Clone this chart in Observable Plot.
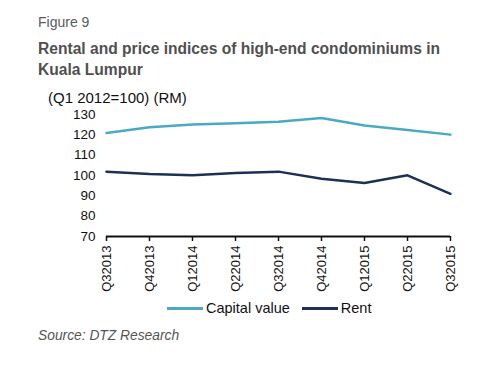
<!DOCTYPE html>
<html><head><meta charset="utf-8">
<script src="https://cdn.jsdelivr.net/npm/d3@7"></script>
<script src="https://cdn.jsdelivr.net/npm/@observablehq/plot@0.6"></script>
<style>
body{margin:0;width:500px;height:367px;position:relative;background:#fff;font-family:Arial,"Liberation Sans",sans-serif;overflow:hidden}
.abs{position:absolute;white-space:nowrap}
#fig{left:38px;top:14px;font-size:14px;color:#5a5a5a}
#title{left:38px;top:38px;font-size:15.6px;font-weight:bold;color:#505050;line-height:21px}
#unit{left:48px;top:89px;font-size:15px;color:#111}
#chart{left:0;top:104px}
#legend{left:167px;top:300px;display:flex;font-size:14.5px;color:#111}
.item{display:flex;align-items:center;margin-right:12px}
.sw{display:inline-block;width:36px;height:3px;margin-right:3px}
#src{left:38px;top:328px;font-size:13.8px;font-style:italic;color:#555}
</style></head>
<body>
<div class="abs" id="fig">Figure 9</div>
<div class="abs" id="title">Rental and price indices of high-end condominiums in<br>Kuala Lumpur</div>
<div class="abs" id="unit">(Q1 2012=100) (RM)</div>
<div class="abs" id="chart"></div>
<div class="abs" id="legend"></div>
<div class="abs" id="src">Source: DTZ Research</div>
<script>
const quarters = ["Q3 2013","Q4 2013","Q1 2014","Q2 2014","Q3 2014","Q4 2014","Q1 2015","Q2 2015","Q3 2015"];
const capitalValue = [120.9,123.7,125.1,125.7,126.4,128.3,124.6,122.4,120.1];
const rent = [101.9,100.7,100.1,101.2,101.9,98.4,96.3,100.1,91.0];
const seriesNames = ["Capital value","Rent"];
const seriesColors = ["#4aaac2","#1c3254"];
const yTicks = [70,80,90,100,110,120,130];

const data = [];
quarters.forEach((q,i)=>{
  data.push({q, v: capitalValue[i], s: seriesNames[0]});
  data.push({q, v: rent[i], s: seriesNames[1]});
});

const chart = Plot.plot({
  width: 500, height: 196,
  marginTop: 10, marginBottom: 64, marginLeft: 106, marginRight: 50,
  style: {fontFamily: 'Arial, "Liberation Sans", sans-serif', fontSize: "13px", color: "#111", background: "transparent"},
  x: {type: "point", domain: quarters, padding: 0, label: null},
  y: {domain: [70,130], label: null},
  color: {domain: seriesNames, range: seriesColors},
  marks: [
    Plot.axisY({ticks: yTicks, tickSize: 0, tickPadding: 11, fontSize: 13.5, label: null}),
    Plot.axisX({tickSize: 5, tickRotate: -90, tickPadding: 4, fontSize: 13, strokeWidth: 1.5, stroke: "#111", label: null, tickFormat: d => d.replace(" ", "")}),
    Plot.ruleY([70], {stroke: "#111", strokeWidth: 2}),
    Plot.line(data, {x: "q", y: "v", stroke: "s", strokeWidth: 2.5})
  ]
});
document.getElementById("chart").appendChild(chart);

const lg = document.getElementById("legend");
seriesNames.forEach((n,i)=>{
  const it = document.createElement("div"); it.className = "item";
  const sw = document.createElement("span"); sw.className = "sw"; sw.style.background = seriesColors[i];
  it.appendChild(sw); it.appendChild(document.createTextNode(n));
  lg.appendChild(it);
});
</script>
</body></html>
